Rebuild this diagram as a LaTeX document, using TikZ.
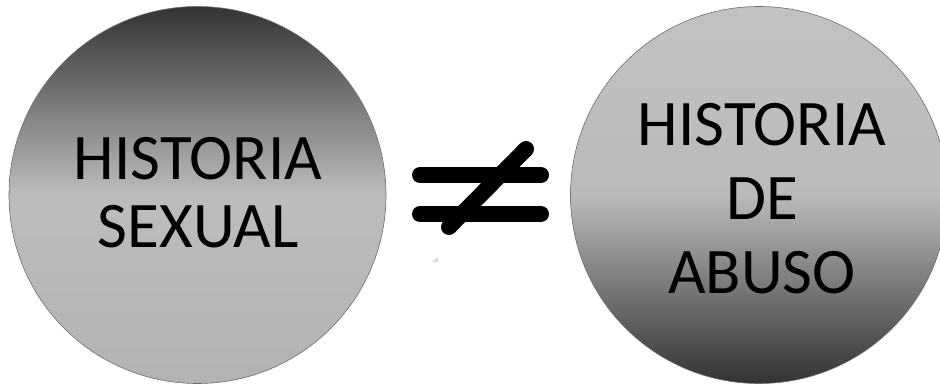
\documentclass[tikz,border=0pt]{standalone}
\usepackage{fontspec}
\setmainfont{Carlito}
\begin{document}
\begin{tikzpicture}[x=1pt,y=-1pt,
  ball/.style={circle, draw=gray!85!black, line width=0.6pt, minimum size=377pt, inner sep=0pt},
  darktop/.style={ball, top color=black!80, bottom color=black!30, middle color=black!26},
  darkbottom/.style={ball, top color=black!24, bottom color=black!80, middle color=black!27},
  label/.style={align=center, inner sep=0pt, text=black},
  bar/.style={line width=16pt, line cap=round, black}]
\useasboundingbox (0,0) rectangle (940,385);
\begin{scope}
  \clip (0,0) rectangle (940,385);
  \node[darktop] (sexual) at (197.5,195) {};
  \node[darkbottom] (abuso) at (759,195) {};
\end{scope}
\node[label, font=\fontsize{65}{68}\selectfont] (t1) at (198,193) {HISTORIA\\SEXUAL};
\node[label, font=\fontsize{65}{74}\selectfont] (t2) at (762,199) {HISTORIA\\DE\\ABUSO};
\coordinate (a1) at (420,175);
\coordinate (a2) at (541,175);
\coordinate (b1) at (420,214);
\coordinate (b2) at (541,214);
\coordinate (s1) at (449,227);
\coordinate (s2) at (526,149);
\draw[bar] (a1) -- (a2);
\draw[bar] (b1) -- (b2);
\draw[bar] (s1) -- (s2);
\fill[black!15] (432,262) -- (438,257) -- (438,262) -- cycle;
\end{tikzpicture}
\end{document}
